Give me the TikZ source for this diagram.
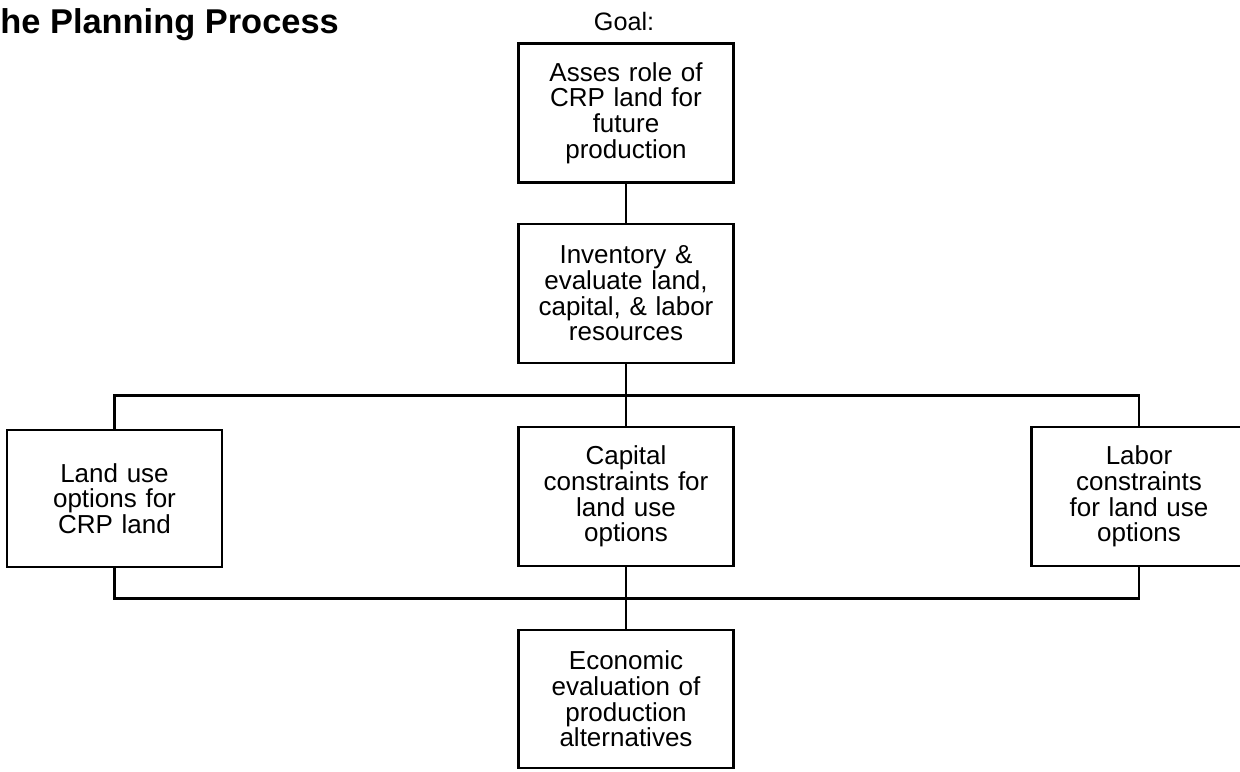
\documentclass[tikz,border=0pt]{standalone}
\usepackage{fontspec}
\setmainfont{Liberation Sans}
\begin{document}
\begin{tikzpicture}[x=0.5pt,y=-0.5pt,
  boxnode/.style={draw,line width=1.4pt,inner sep=0pt,minimum width=107.5pt,minimum height=69.5pt,
    text width=104pt,align=center,font=\fontsize{13}{12.8}\selectfont},
  link/.style={line width=1.4pt}]
\useasboundingbox (0,0) rectangle (1240,771);
\node[anchor=base west,inner sep=0pt,font=\fontsize{17.2}{20}\selectfont\bfseries] (title) at (0,33) {he Planning Process};
\node[anchor=base,inner sep=0pt,font=\fontsize{12.6}{13}\selectfont] (goallbl) at (624,30) {Goal:};
\node[boxnode] (goal) at (626,113) {Asses role of\\CRP land for\\future\\production};
\node[boxnode] (inv) at (626,293.5) {Inventory \&\\evaluate land,\\capital, \& labor\\resources};
\node[boxnode,minimum height=68.5pt] (land) at (114.5,498.5) {Land use\\options for\\CRP land};
\node[boxnode] (cap) at (626,496.5) {Capital\\constraints for\\land use\\options};
\node[boxnode] (lab) at (1139,496.5) {Labor\\constraints\\for land use\\options};
\node[boxnode,minimum height=69pt] (eco) at (626,699) {Economic\\evaluation of\\production\\alternatives};
\coordinate (busT) at (626,395.5);
\coordinate (busB) at (626,598.5);
\draw[link] (goal.south) -- (inv.north);
\draw[link] (inv.south) -- (cap.north);
\draw[link] (land.north) |- (busT) -| (lab.north);
\draw[link] (land.south) |- (busB) -| (lab.south);
\draw[link] (cap.south) -- (eco.north);
\end{tikzpicture}
\end{document}
